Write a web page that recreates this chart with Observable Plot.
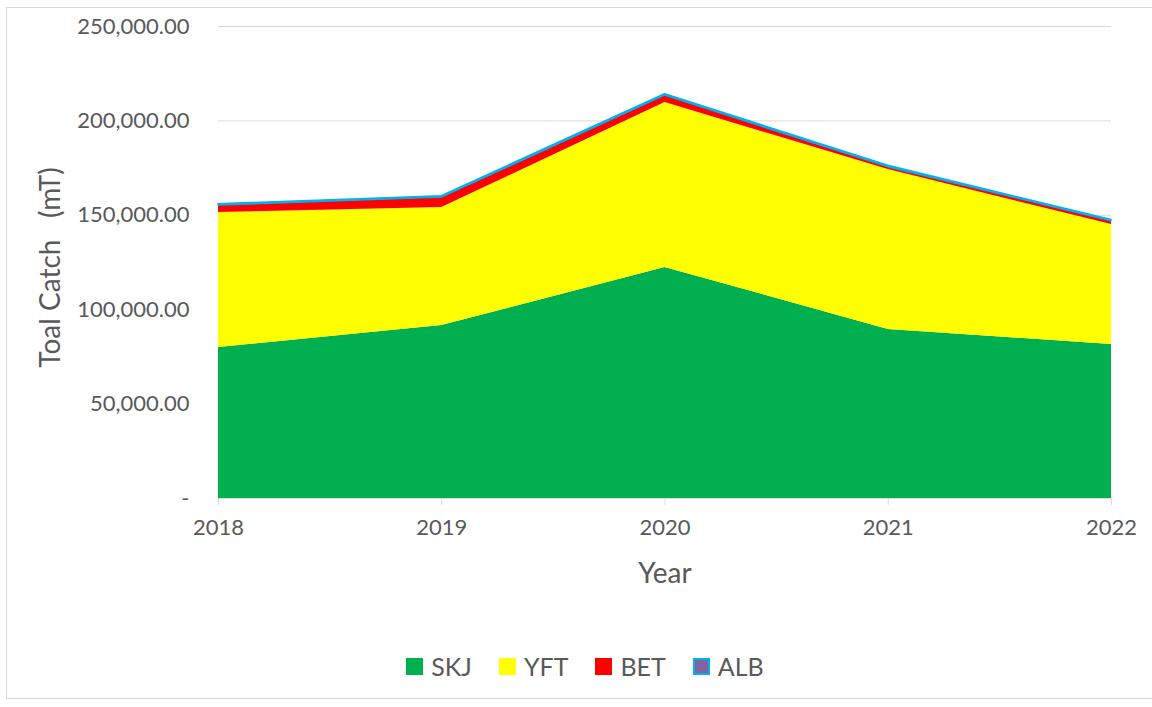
<!DOCTYPE html>
<html>
<head>
<meta charset="utf-8">
<script src="https://cdn.jsdelivr.net/npm/d3@7"></script>
<script src="https://cdn.jsdelivr.net/npm/@observablehq/plot@0.6"></script>
<style>
  html, body { margin: 0; padding: 0; background: #fff; }
  #wrap { position: relative; width: 1152px; height: 707px; overflow: hidden; font-family: Lato, "Noto Sans", sans-serif; }
  #frame { position: absolute; left: 6px; top: 7px; width: 1160px; height: 692px; border: 1px solid #D9D9D9; box-sizing: border-box; }
  #chart { position: absolute; left: 0; top: 0; }
  #legend { position: absolute; left: 0; top: 651px; width: 1170px; display: flex; justify-content: center; align-items: center; gap: 27px; font-size: 25px; color: #595959; }
  .item { display: flex; align-items: center; gap: 8px; }
  .sw { width: 17px; height: 17px; box-sizing: border-box; }
</style>
</head>
<body>
<div id="wrap">
  <div id="frame"></div>
  <div id="chart"></div>
  <div id="legend"></div>
</div>
<script>
const years = [2018, 2019, 2020, 2021, 2022];
const species = ["SKJ", "YFT", "BET", "ALB"];
const skj = [80000, 91600, 122400, 89500, 81600];
const yft = [71500, 62500, 87300, 84700, 63500];
const bet = [3700, 5300, 3700, 1300, 1700];
const alb = [700, 700, 800, 700, 700];
const yTicks = [0, 50000, 100000, 150000, 200000, 250000];
const fills = ["#00B050", "#FFFF00", "#FF0000", "#8064A2"];
const albStroke = "#00B0F0";

const series = [skj, yft, bet, alb];
const rows = [];
years.forEach((yr, i) => {
  let base = 0;
  species.forEach((s, k) => {
    const v = series[k][i];
    rows.push({year: yr, species: s, y1: base, y2: base + v});
    base += v;
  });
});

const fmt = d3.format(",.2f");
const chart = Plot.plot({
  width: 1152,
  height: 600,
  marginLeft: 218,
  marginRight: 41,
  marginTop: 26,
  marginBottom: 102,
  style: {fontFamily: "Lato, 'Noto Sans', sans-serif", background: "transparent", color: "#595959"},
  x: {domain: [2018, 2022]},
  y: {domain: [0, 250000]},
  color: {domain: species, range: fills},
  marks: [
    Plot.gridY(yTicks, {stroke: "#D9D9D9", strokeOpacity: 1, strokeWidth: 1}),
    Plot.areaY(rows.filter(d => d.species !== "ALB"), {x: "year", y1: "y1", y2: "y2", z: "species", fill: "species", curve: "linear"}),
    Plot.areaY(rows.filter(d => d.species === "ALB"), {x: "year", y1: "y1", y2: "y2", fill: fills[3], stroke: albStroke, strokeWidth: 1.5, curve: "linear"}),
    Plot.ruleY([0], {stroke: "#D9D9D9", strokeWidth: 1}),
    Plot.axisY(yTicks, {tickSize: 0, tickPadding: 29, fontSize: 22, fill: "#595959", label: null, tickFormat: d => d === 0 ? "-" : fmt(d)}),
    Plot.axisX(years, {tickSize: 7, stroke: "#D9D9D9", tickPadding: 14, fontSize: 22, fill: "#595959", label: null, tickFormat: d => String(d)}),
    Plot.text(["Toal Catch\u00A0\u00A0 (mT)"], {frameAnchor: "left", dx: -167, dy: 5, rotate: -90, textAnchor: "middle", fontSize: 28, fill: "#595959"}),
    Plot.text(["Year"], {frameAnchor: "bottom", dy: 84, textAnchor: "middle", fontSize: 28, fill: "#595959"})
  ]
});
document.getElementById("chart").appendChild(chart);

const legend = document.getElementById("legend");
species.forEach((s, k) => {
  const it = document.createElement("div");
  it.className = "item";
  const sw = document.createElement("div");
  sw.className = "sw";
  sw.style.background = fills[k];
  if (s === "ALB") sw.style.border = "2px solid " + albStroke;
  const t = document.createElement("span");
  t.textContent = s;
  it.appendChild(sw); it.appendChild(t);
  legend.appendChild(it);
});
</script>
</body>
</html>
